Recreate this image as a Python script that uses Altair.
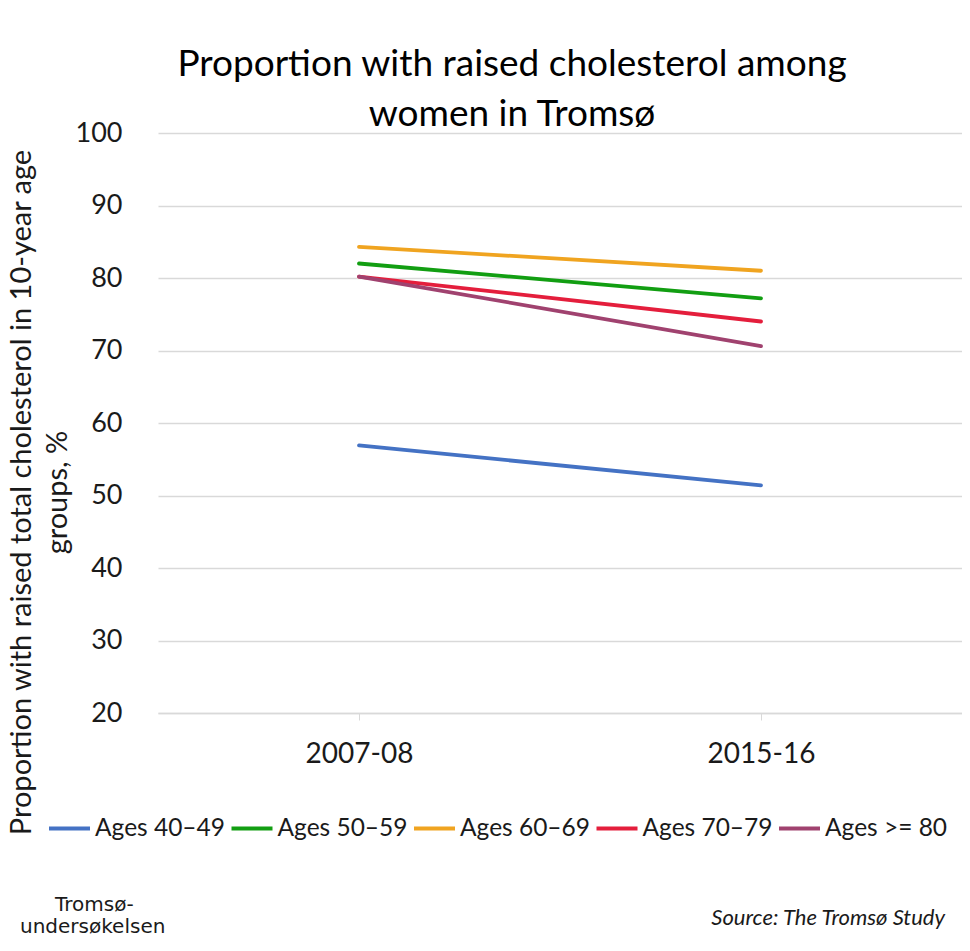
import altair as alt
import pandas as pd

periods = ["2007-08", "2015-16"]
groups = ["Ages 40–49", "Ages 50–59", "Ages 60–69", "Ages 70–79", "Ages >= 80"]
v_40_49 = [56.9, 51.4]
v_50_59 = [82.0, 77.2]
v_60_69 = [84.3, 81.0]
v_70_79 = [80.2, 74.0]
v_80 = [80.2, 70.6]
colors = ["#4472C4", "#129E12", "#F0A420", "#E41E3C", "#A0426F"]
y_ticks = [20, 30, 40, 50, 60, 70, 80, 90, 100]

title_lines = ["Proportion with raised cholesterol among", "women in Tromsø"]
y_title = ["Proportion with raised total cholesterol in 10-year age", "groups, %"]
source_text = ["Source: The Tromsø Study"]
logo_lines = ["Tromsø-", "undersøkelsen"]

series = [v_40_49, v_50_59, v_60_69, v_70_79, v_80]
rows = []
for g, vals in zip(groups, series):
    for p, v in zip(periods, vals):
        rows.append({"period": p, "group": g, "value": v})
df = pd.DataFrame(rows)

FONT = "Lato"
TXT = "#1a1a1a"

lines = alt.Chart(df).mark_line(strokeWidth=3.8, strokeCap="round").encode(
    x=alt.X("period:N", sort=periods, scale=alt.Scale(type="point", padding=0.5),
            axis=alt.Axis(title=None, labelAngle=0, labelFontSize=28, labelFont=FONT,
                          labelColor=TXT, labelPadding=20, tickSize=7, tickColor="#D9D9D9",
                          domainColor="#D9D9D9", domainWidth=1.5, grid=False)),
    y=alt.Y("value:Q", scale=alt.Scale(domain=[20, 100], nice=False, zero=False),
            axis=alt.Axis(values=y_ticks, title=y_title, titleFont=FONT, titleFontSize=29,
                          titleFontWeight="normal", titleColor=TXT, titleLineHeight=36,
                          titleX=-151, titleY=359, titleAlign="center", titleBaseline="top",
                          labelFontSize=27, labelFont=FONT, labelColor=TXT, labelPadding=36,
                          ticks=False, domain=False, grid=True, gridColor="#D9D9D9",
                          gridWidth=1.5)),
    color=alt.Color("group:N", sort=groups,
                    scale=alt.Scale(domain=groups, range=colors),
                    legend=alt.Legend(title=None, orient="none", legendX=-111, legendY=673,
                                      direction="horizontal", columns=5,
                                      symbolType="stroke", symbolSize=1681,
                                      symbolStrokeWidth=3.8, labelFontSize=24.5,
                                      labelFont=FONT, labelColor=TXT, labelOffset=3,
                                      columnPadding=-1.5, padding=0)),
)

src = alt.Chart(pd.DataFrame({"t": source_text})).mark_text(
    align="right", baseline="middle", fontStyle="italic", fontSize=22, font=FONT, color=TXT
).encode(x=alt.value(787), y=alt.value(785), text="t:N")

logo = alt.Chart(pd.DataFrame({"t": logo_lines, "i": [0, 1]})).mark_text(
    align="left", baseline="middle", fontSize=20, font="DejaVu Sans", color=TXT
).encode(
    x=alt.X("i:O", scale=alt.Scale(type="point", domain=[0, 1], range=[-103, -138], padding=0), axis=None),
    y=alt.Y("i:O", scale=alt.Scale(type="point", domain=[0, 1], range=[772, 794], padding=0), axis=None),
    text="t:N",
)

chart = alt.layer(lines, src, logo).resolve_scale(x="independent", y="independent").properties(
    width=804, height=580,
    autosize=alt.AutoSizeParams(type="none"),
    padding={"left": 150, "top": 125, "right": 0, "bottom": 230},
    title=alt.Title(text=title_lines, fontSize=37, font=FONT, fontWeight="normal",
                    color="#000000", dx=-48, lineHeight=50, offset=-15, anchor="middle"),
).configure_view(stroke=None)

chart.save("out.html", embed_options={"renderer": "svg", "actions": False})
